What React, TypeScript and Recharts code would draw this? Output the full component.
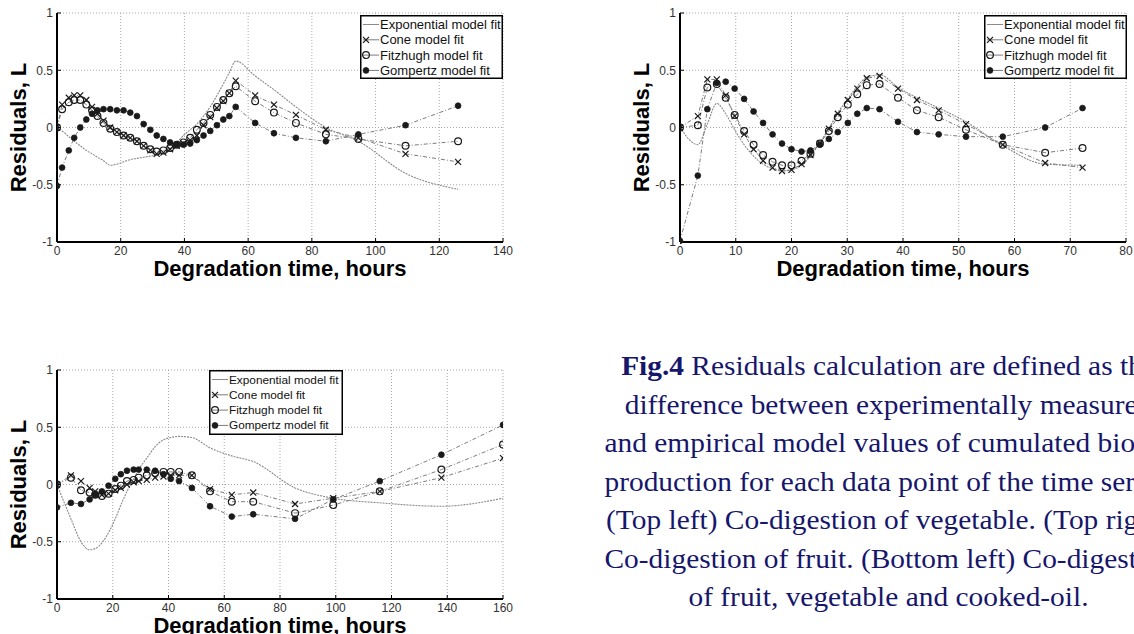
import React from "react";
import { LineChart, Line, XAxis, YAxis, CartesianGrid, Legend } from "recharts";

// Top left: co-digestion of vegetable
const vegHours = [0, 1.6, 3.7, 5.4, 7.3, 9.2, 11, 12.7, 14.6, 16.7, 18.8, 20.9, 23, 25.1, 27.2, 29.3, 31.3, 33.4, 35.5, 37.6, 39.7, 41.8, 43.9, 46, 48.1, 50.2, 52.2, 54.1, 56.1, 62.2, 68.1, 75, 84.4, 94.6, 109.4, 125.9];
const vegExponential = [0, -0.03, -0.08, -0.12, -0.16, -0.2, -0.23, -0.26, -0.29, -0.33, -0.32, -0.3, -0.28, -0.27, -0.26, -0.25, -0.24, -0.22, -0.19, -0.13, -0.07, -0.02, 0.03, 0.1, 0.18, 0.28, 0.38, 0.48, 0.58, 0.45, 0.33, 0.18, 0, -0.12, -0.4, -0.54];
const vegCone = [0, 0.2, 0.26, 0.28, 0.28, 0.24, 0.18, 0.12, 0.06, 0.0, -0.04, -0.07, -0.09, -0.12, -0.16, -0.2, -0.23, -0.22, -0.19, -0.16, -0.14, -0.11, -0.07, 0.02, 0.09, 0.17, 0.23, 0.3, 0.41, 0.28, 0.2, 0.11, -0.02, -0.09, -0.23, -0.3];
const vegFitzhugh = [0, 0.16, 0.22, 0.24, 0.24, 0.2, 0.15, 0.1, 0.04, -0.01, -0.04, -0.07, -0.09, -0.12, -0.16, -0.19, -0.21, -0.2, -0.18, -0.15, -0.13, -0.09, -0.02, 0.04, 0.11, 0.18, 0.24, 0.3, 0.36, 0.23, 0.13, 0.04, -0.06, -0.1, -0.16, -0.12];
const vegGompertz = [-0.51, -0.35, -0.2, -0.09, 0.0, 0.07, 0.12, 0.15, 0.16, 0.16, 0.15, 0.15, 0.13, 0.1, 0.03, -0.02, -0.07, -0.1, -0.13, -0.15, -0.15, -0.14, -0.11, -0.07, -0.03, 0.02, 0.07, 0.1, 0.18, 0.04, -0.05, -0.09, -0.12, -0.06, 0.02, 0.19];

// Top right: co-digestion of fruit
const fruitHours = [0, 3.2, 4.9, 6.6, 8.2, 9.8, 11.5, 13.2, 14.9, 16.6, 18.3, 20, 21.8, 23.4, 25.1, 26.7, 28.3, 30.1, 31.8, 33.5, 35.8, 39.1, 42.5, 46.4, 51.3, 57.9, 65.5, 72.2];
const fruitExponential = [0, -0.15, 0.03, 0.21, 0.12, -0.02, -0.15, -0.25, -0.32, -0.36, -0.38, -0.37, -0.33, -0.25, -0.13, -0.01, 0.13, 0.25, 0.36, 0.44, 0.46, 0.35, 0.26, 0.17, 0.05, -0.16, -0.32, -0.33];
const fruitCone = [0, 0.1, 0.42, 0.42, 0.28, 0.1, -0.06, -0.19, -0.29, -0.35, -0.38, -0.37, -0.32, -0.24, -0.14, -0.01, 0.12, 0.24, 0.34, 0.43, 0.45, 0.34, 0.24, 0.15, 0.03, -0.15, -0.31, -0.35];
const fruitFitzhugh = [0, 0.02, 0.35, 0.38, 0.26, 0.11, -0.03, -0.15, -0.24, -0.3, -0.33, -0.33, -0.29, -0.23, -0.14, -0.03, 0.09, 0.2, 0.29, 0.37, 0.38, 0.26, 0.15, 0.09, -0.02, -0.15, -0.22, -0.18];
const fruitGompertz = [-0.99, -0.42, 0.16, 0.39, 0.4, 0.34, 0.25, 0.14, 0.04, -0.06, -0.14, -0.19, -0.21, -0.2, -0.15, -0.1, -0.04, 0.04, 0.12, 0.17, 0.16, 0.05, -0.04, -0.06, -0.08, -0.08, 0.0, 0.17];

// Bottom left: fruit, vegetable and cooked-oil
const mixHours = [0, 5, 8.6, 11.7, 13.7, 16.1, 18.5, 20.9, 22.9, 25.1, 27.5, 29.3, 32.2, 35.2, 38.2, 40.8, 43.8, 48.4, 54.9, 62.7, 70.4, 85.4, 99.1, 115.8, 137.9, 160];
const mixExponential = [0, -0.3, -0.5, -0.57, -0.56, -0.51, -0.42, -0.3, -0.18, -0.06, 0.05, 0.13, 0.23, 0.33, 0.39, 0.41, 0.42, 0.41, 0.32, 0.25, 0.2, -0.03, -0.12, -0.16, -0.19, -0.12];
const mixCone = [0, 0.08, 0.03, -0.03, -0.06, -0.09, -0.08, -0.05, -0.03, 0.0, 0.02, 0.03, 0.04, 0.06, 0.07, 0.08, 0.08, 0.08, -0.04, -0.09, -0.07, -0.17, -0.12, -0.06, 0.06, 0.23];
const mixFitzhugh = [0, 0.06, -0.05, -0.07, -0.09, -0.1, -0.08, -0.04, -0.01, 0.03, 0.04, 0.06, 0.08, 0.1, 0.11, 0.11, 0.11, 0.08, -0.06, -0.15, -0.15, -0.25, -0.18, -0.06, 0.13, 0.35];
const mixGompertz = [-0.2, -0.16, -0.17, -0.13, -0.09, -0.06, -0.01, 0.05, 0.09, 0.12, 0.13, 0.13, 0.13, 0.12, 0.09, 0.05, 0.03, -0.03, -0.19, -0.28, -0.26, -0.3, -0.13, 0.03, 0.26, 0.52];

const seriesNames = ["Exponential model fit", "Cone model fit", "Fitzhugh model fit", "Gompertz model fit"];
const yTicks = [-1, -0.5, 0, 0.5, 1];

const INK = "#1a1a1a";
const LINE = "#7c7c7c";

const buildRows = (hours, e, c, f, g) =>
    hours.map((t, i) => ({ t, exp: e[i], cone: c[i], fitz: f[i], gomp: g[i] }));

const CrossMark = ({ cx, cy }) => (
    <g stroke={INK} strokeWidth={1.2}>
        <line x1={cx - 3} y1={cy - 3} x2={cx + 3} y2={cy + 3} />
        <line x1={cx - 3} y1={cy + 3} x2={cx + 3} y2={cy - 3} />
    </g>
);
const RingMark = ({ cx, cy }) => <circle cx={cx} cy={cy} r={3.4} fill="none" stroke={INK} strokeWidth={1.2} />;
const DotMark = ({ cx, cy }) => <circle cx={cx} cy={cy} r={2.9} fill={INK} stroke={INK} strokeWidth={0.8} />;

const LegendBox = ({ width, height, fontSize }) => {
    const marks = [null, CrossMark, RingMark, DotMark];
    return (
        <svg width={width} height={height} style={{ display: "block" }}>
            <rect x={0.75} y={0.75} width={width - 1.5} height={height - 1.5} fill="#fff" stroke="#000" strokeWidth={1.5} />
            {seriesNames.map((name, i) => {
                const y = 9.5 + i * 15.3;
                const Mark = marks[i];
                return (
                    <g key={name}>
                        <line x1={3} x2={19} y1={y} y2={y} stroke={i === 0 ? "#8a8a8a" : LINE} strokeWidth={1} />
                        {Mark && <Mark cx={6} cy={y} />}
                        <text x={20} y={y} dominantBaseline="central" fontSize={fontSize} fill="#111">{name}</text>
                    </g>
                );
            })}
        </svg>
    );
};

const Panel = ({ rows, xMax, xTicks, width, legend, style }) => {
    const xTitle = (props) => {
        const vb = props.viewBox || { x: 57, y: 242, width: 446 };
        return (
            <text x={vb.x + vb.width / 2} y={vb.y + 26} textAnchor="middle" dominantBaseline="central"
                fontSize={22} fontWeight="bold" fill="#000">Degradation time, hours</text>
        );
    };
    const yTitle = (props) => {
        const vb = props.viewBox || { x: 0, y: 13, height: 229 };
        const x = vb.x + 18;
        const y = vb.y + vb.height / 2;
        return (
            <text x={x} y={y} transform={`rotate(-90, ${x}, ${y})`} textAnchor="middle" dominantBaseline="central"
                fontSize={22} fontWeight="bold" fill="#000">Residuals, L</text>
        );
    };
    return (
        <div style={{ position: "absolute", ...style }}>
            <LineChart width={width} height={290} data={rows} margin={{ top: 13, right: width - 57 - 446, bottom: 0, left: 0 }}>
                <CartesianGrid stroke="#a8a8a8" strokeDasharray="1 2" />
                <XAxis type="number" dataKey="t" domain={[0, xMax]} ticks={xTicks} allowDataOverflow height={48}
                    axisLine={{ stroke: "#000", strokeWidth: 2 }} tickLine={{ stroke: "#000" }} tickSize={-4} tickMargin={8}
                    tick={{ fontSize: 12, fill: "#333" }} label={xTitle} />
                <YAxis type="number" domain={[-1, 1]} ticks={yTicks} width={57}
                    axisLine={{ stroke: "#000", strokeWidth: 2 }} tickLine={{ stroke: "#000" }} tickSize={-4} tickMargin={8}
                    tick={{ fontSize: 12, fill: "#333" }} label={yTitle} />
                <Legend layout="vertical" align="center" verticalAlign="middle"
                    wrapperStyle={{ left: legend.left, top: legend.top, width: legend.width, height: legend.height }}
                    content={() => <LegendBox width={legend.width} height={legend.height} fontSize={legend.fontSize} />} />
                <Line type="monotone" dataKey="exp" name={seriesNames[0]} stroke="#8a8a8a" strokeWidth={1.1}
                    strokeDasharray="2 1" dot={false} isAnimationActive={false} />
                <Line type="linear" dataKey="cone" name={seriesNames[1]} stroke={LINE} strokeWidth={1} strokeDasharray="4 2 1 2"
                    dot={(p) => <CrossMark key={`c${p.index}`} cx={p.cx} cy={p.cy} />} isAnimationActive={false} />
                <Line type="linear" dataKey="fitz" name={seriesNames[2]} stroke={LINE} strokeWidth={1} strokeDasharray="4 2 1 2"
                    dot={(p) => <RingMark key={`f${p.index}`} cx={p.cx} cy={p.cy} />} isAnimationActive={false} />
                <Line type="linear" dataKey="gomp" name={seriesNames[3]} stroke={LINE} strokeWidth={1} strokeDasharray="4 2 1 2"
                    dot={(p) => <DotMark key={`g${p.index}`} cx={p.cx} cy={p.cy} />} isAnimationActive={false} />
            </LineChart>
        </div>
    );
};

const captionLines = [
    "difference between experimentally measured",
    "and empirical model values of cumulated biogas",
    "production for each data point of the time series.",
    "(Top left) Co-digestion of vegetable. (Top right)",
    "Co-digestion of fruit. (Bottom left) Co-digestion",
    "of fruit, vegetable and cooked-oil.",
];

const App = () => {
    const vegRows = buildRows(vegHours, vegExponential, vegCone, vegFitzhugh, vegGompertz);
    const fruitRows = buildRows(fruitHours, fruitExponential, fruitCone, fruitFitzhugh, fruitGompertz);
    const mixRows = buildRows(mixHours, mixExponential, mixCone, mixFitzhugh, mixGompertz);

    return (
        <div style={{ position: "fixed", left: 0, top: 0, width: 1134, height: 634, overflow: "hidden", background: "#fff",
            fontFamily: "'Liberation Sans', Arial, sans-serif" }}>
            {/* Top left */}
            <Panel rows={vegRows} xMax={140} xTicks={[0, 20, 40, 60, 80, 100, 120, 140]} width={520}
                legend={{ left: 360, top: 15, width: 143, height: 64, fontSize: 13 }} style={{ left: 0, top: 0 }} />
            {/* Top right */}
            <Panel rows={fruitRows} xMax={80} xTicks={[0, 10, 20, 30, 40, 50, 60, 70, 80]} width={511}
                legend={{ left: 361, top: 15, width: 143, height: 64, fontSize: 13 }} style={{ left: 623, top: 0 }} />
            {/* Bottom left */}
            <Panel rows={mixRows} xMax={160} xTicks={[0, 20, 40, 60, 80, 100, 120, 140, 160]} width={520}
                legend={{ left: 209, top: 13, width: 134, height: 65, fontSize: 11.8 }} style={{ left: 0, top: 357 }} />

            {/* Caption */}
            <div style={{ position: "absolute", left: 617.5, top: 347, width: 541, textAlign: "center",
                transform: "scaleX(1.05)", transformOrigin: "50% 50%",
                fontFamily: "'Liberation Serif', 'Times New Roman', serif", fontSize: 28, lineHeight: "38.5px", color: "#16166b" }}>
                <div style={{ whiteSpace: "nowrap" }}><b>Fig.4</b> Residuals calculation are defined as the</div>
                {captionLines.map((l) => (
                    <div key={l} style={{ whiteSpace: "nowrap" }}>{l}</div>
                ))}
            </div>
        </div>
    );
};

export default App;
